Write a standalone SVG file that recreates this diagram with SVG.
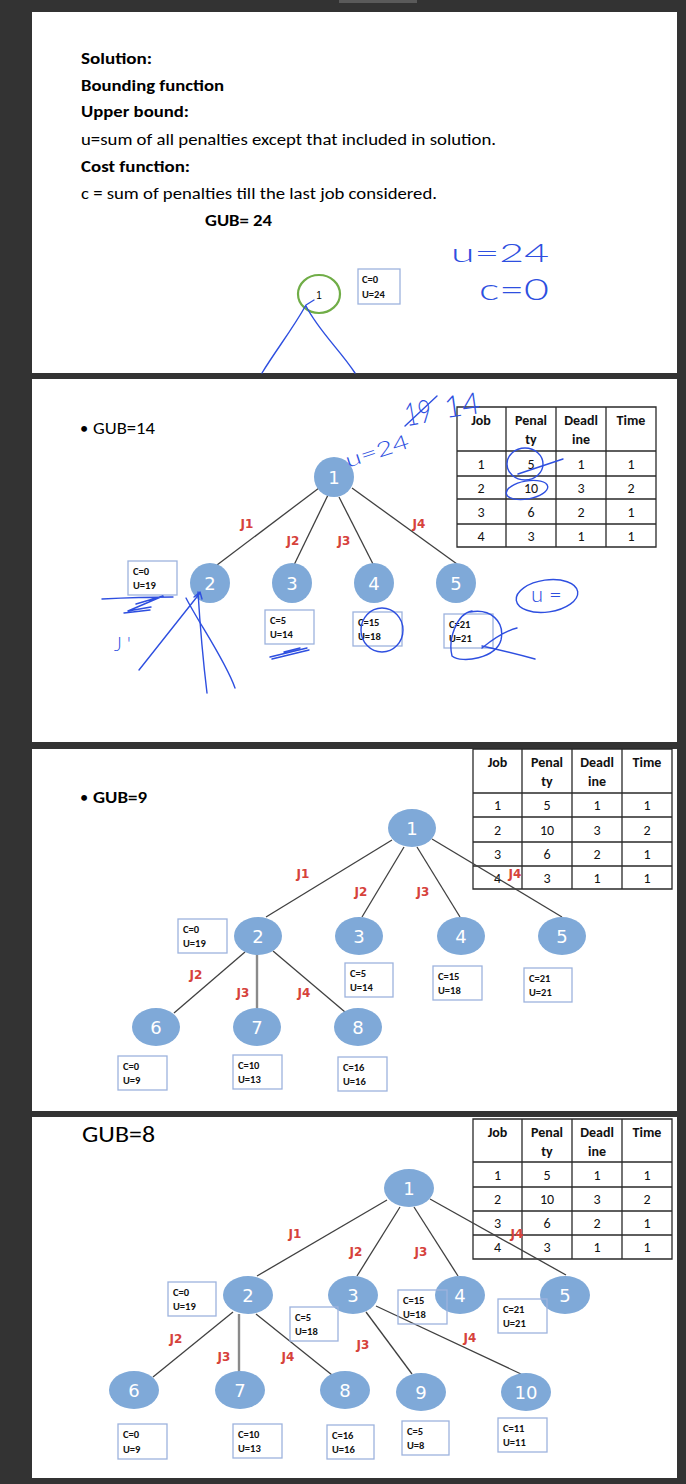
<svg xmlns="http://www.w3.org/2000/svg" width="686" height="1484" viewBox="0 0 686 1484">
<style>
.bg{fill:#333333}
.panel{fill:#ffffff}
.h{font-family:Carlito,'Liberation Sans',Arial,sans-serif;fill:#000;font-size:16.5px}
.b{font-weight:bold}
.node{fill:#7FA9D8}
.nl{font-family:'DejaVu Sans',sans-serif;font-size:18px;fill:#fff;text-anchor:middle}
.edge{stroke:#404040;stroke-width:1.3;fill:none}
.edge2{stroke:#8a8a8a;stroke-width:2.4;fill:none}
.jl{font-family:'DejaVu Sans',sans-serif;font-size:12px;fill:#D6423B;text-anchor:middle;font-weight:bold}
.box{fill:none;stroke:#9DB3DE;stroke-width:1.3}
.bt{font-family:Carlito,'Liberation Sans',Arial,sans-serif;font-size:10.5px;font-weight:bold;fill:#111}
.tl{stroke:#2a2a2a;stroke-width:1.3;fill:none}
.tt{font-family:Carlito,'Liberation Sans',Arial,sans-serif;font-size:14px;fill:#111;text-anchor:middle}
.th{font-weight:bold}
.ink{stroke:#2E4FE0;stroke-width:1.4;fill:none;stroke-linecap:round;stroke-linejoin:round}
.inkt{font-family:'DejaVu Sans ExtraLight',Lato,'DejaVu Sans',sans-serif;font-weight:300;fill:#2E4FE0}
</style>
<rect class="bg" x="0" y="0" width="686" height="1484"/>
<rect x="339" y="0" width="78" height="3" fill="#5a5a5a"/>
<rect class="panel" x="32" y="12" width="645" height="361"/>
<rect class="panel" x="32" y="379" width="645" height="363"/>
<rect class="panel" x="32" y="749" width="645" height="362"/>
<rect class="panel" x="32" y="1117" width="645" height="361"/>

<!-- Panel 1 -->
<g id="p1-text">
<text class="h b" x="81" y="64" textLength="71" lengthAdjust="spacingAndGlyphs">Solution:</text>
<text class="h b" x="81" y="91" textLength="143" lengthAdjust="spacingAndGlyphs">Bounding function</text>
<text class="h b" x="81" y="117" textLength="108" lengthAdjust="spacingAndGlyphs">Upper bound:</text>
<text class="h" x="81" y="145" textLength="415" lengthAdjust="spacingAndGlyphs">u=sum of all penalties except that included in solution.</text>
<text class="h b" x="81" y="172" textLength="109" lengthAdjust="spacingAndGlyphs">Cost function:</text>
<text class="h" x="81" y="199" textLength="356" lengthAdjust="spacingAndGlyphs">c = sum of penalties till the last job considered.</text>
<text class="h b" x="205" y="226" textLength="67" lengthAdjust="spacingAndGlyphs">GUB= 24</text>
</g>
<g id="p1-node1">
<ellipse cx="319" cy="294" rx="21" ry="19" fill="none" stroke="#70AD47" stroke-width="2.2"/>
<text x="319" y="299" font-family="'Liberation Sans',sans-serif" font-size="10" text-anchor="middle">1</text>
</g>
<g id="p1-box1">
<rect class="box" x="358" y="269" width="42" height="35"/>
<text class="bt" x="362" y="283">C=0</text>
<text class="bt" x="362" y="298">U=24</text>
</g>
<g id="p1-ink">
<text class="inkt" x="451" y="262" font-size="26" textLength="98" lengthAdjust="spacingAndGlyphs">u=24</text>
<text class="inkt" x="479" y="300" font-size="30" textLength="70" lengthAdjust="spacingAndGlyphs">c=0</text>
<path class="ink" d="M314,300 L306,305 C292,330 276,350 262,373 M306,306 C318,330 340,350 355,373"/>
</g>

<!-- Panel 2 -->
<g id="p2-title">
<text class="h" x="80" y="434">•</text>
<text class="h" x="93" y="434" textLength="62" lengthAdjust="spacingAndGlyphs">GUB=14</text>
</g>
<g id="p2-table">
<path class="tl" d="M457,407 H656 V547 H457 Z M457,451 H656 M457,476 H656 M457,499 H656 M457,524 H656 M506,407 V547 M556,407 V547 M606,407 V547"/>
<text class="tt th" x="481" y="425">Job</text>
<text class="tt th" x="531" y="425">Penal</text><text class="tt th" x="531" y="444">ty</text>
<text class="tt th" x="581" y="425">Deadl</text><text class="tt th" x="581" y="444">ine</text>
<text class="tt th" x="631" y="425">Time</text>
<text class="tt" x="481" y="469">1</text><text class="tt" x="531" y="469">5</text><text class="tt" x="581" y="469">1</text><text class="tt" x="631" y="469">1</text>
<text class="tt" x="481" y="493">2</text><text class="tt" x="531" y="493">10</text><text class="tt" x="581" y="493">3</text><text class="tt" x="631" y="493">2</text>
<text class="tt" x="481" y="517">3</text><text class="tt" x="531" y="517">6</text><text class="tt" x="581" y="517">2</text><text class="tt" x="631" y="517">1</text>
<text class="tt" x="481" y="541">4</text><text class="tt" x="531" y="541">3</text><text class="tt" x="581" y="541">1</text><text class="tt" x="631" y="541">1</text>
</g>
<g id="p2-connectors">
<line class="edge" x1="319" y1="488" x2="217" y2="565"/>
<line class="edge" x1="328" y1="495" x2="294" y2="565"/>
<line class="edge" x1="339" y1="497" x2="373" y2="564"/>
<line class="edge" x1="352" y1="488" x2="457" y2="564"/>
<text class="jl" x="247" y="528">J1</text>
<text class="jl" x="293" y="545">J2</text>
<text class="jl" x="344" y="545">J3</text>
<text class="jl" x="419" y="528">J4</text>
</g>
<g id="p2-n1"><circle class="node" cx="334" cy="477" r="20"/><text class="nl" x="334" y="483.5">1</text></g>
<g id="p2-n2"><circle class="node" cx="210" cy="583" r="20"/><text class="nl" x="210" y="589.5">2</text></g>
<g id="p2-n3"><circle class="node" cx="292" cy="583" r="20"/><text class="nl" x="292" y="589.5">3</text></g>
<g id="p2-n4"><circle class="node" cx="374" cy="583" r="20"/><text class="nl" x="374" y="589.5">4</text></g>
<g id="p2-n5"><circle class="node" cx="456" cy="583" r="20"/><text class="nl" x="456" y="589.5">5</text></g>
<g id="p2-b2"><rect class="box" x="128" y="561" width="49" height="34"/><text class="bt" x="133" y="575">C=0</text><text class="bt" x="133" y="589">U=19</text></g>
<g id="p2-b3"><rect class="box" x="265" y="610" width="49" height="34"/><text class="bt" x="270" y="624">C=5</text><text class="bt" x="270" y="638">U=14</text></g>
<g id="p2-b4"><rect class="box" x="353" y="612" width="49" height="34"/><text class="bt" x="358" y="626">C=15</text><text class="bt" x="358" y="640">U=18</text></g>
<g id="p2-b5"><rect class="box" x="444" y="614" width="49" height="34"/><text class="bt" x="449" y="628">C=21</text><text class="bt" x="449" y="642">U=21</text></g>
<g id="p2-ink">
<text class="inkt" x="343" y="458" font-size="20" transform="rotate(-18 376 448)" textLength="66" lengthAdjust="spacingAndGlyphs">u=24</text>
<text class="inkt" x="404" y="424" font-size="32" transform="rotate(-10 418 410)" textLength="27" lengthAdjust="spacingAndGlyphs">19</text>
<path class="ink" d="M405,426 L437,396"/>
<text class="inkt" x="444" y="416" font-size="30" transform="rotate(-8 460 405)" textLength="36" lengthAdjust="spacingAndGlyphs">14</text>
<ellipse class="ink" cx="525" cy="464" rx="18" ry="16"/>
<path class="ink" d="M518,474 L563,459"/>
<ellipse class="ink" cx="527" cy="490" rx="21" ry="9" transform="rotate(-10 527 490)"/>
<ellipse class="ink" cx="547" cy="596" rx="31" ry="16" transform="rotate(-8 547 596)"/>
<text class="inkt" x="531" y="602" font-size="22">u =</text>
<ellipse class="ink" cx="382" cy="630" rx="21" ry="22"/>
<path class="ink" d="M472,611 C456,614 448,640 452,656 C462,664 496,658 501,640 C505,621 490,608 470,612 M482,648 C492,640 505,631 517,628 M482,646 C500,650 520,655 535,659"/>
<path class="ink" d="M102,599 Q140,597 173,597 M136,604 L163,596 L128,611 L151,607 M124,613 L150,610"/>
<text class="inkt" x="114" y="651" font-size="19">J '</text>
<path class="ink" d="M139,670 L200,593 M194,597 L200,592 L202,599"/>
<path class="ink" d="M207,693 C203,660 200,625 198,592"/>
<path class="ink" d="M186,598 C200,625 225,660 235,688"/>
<path class="ink" d="M270,657 L307,648 M272,659 L309,650 M284,652 L300,648"/>
</g>

<!-- Panel 3 -->
<g id="p3-title">
<text class="h" x="80" y="803">•</text>
<text class="h b" x="93" y="803" textLength="54" lengthAdjust="spacingAndGlyphs">GUB=9</text>
</g>
<g id="p3-table">
<path class="tl" d="M473,749 H672 V889 H473 Z M473,793 H672 M473,817 H672 M473,842 H672 M473,866 H672 M522,749 V889 M572,749 V889 M622,749 V889"/>
<text class="tt th" x="497.5" y="767">Job</text>
<text class="tt th" x="547" y="767">Penal</text><text class="tt th" x="547" y="786">ty</text>
<text class="tt th" x="597" y="767">Deadl</text><text class="tt th" x="597" y="786">ine</text>
<text class="tt th" x="647" y="767">Time</text>
<text class="tt" x="497.5" y="810">1</text><text class="tt" x="547" y="810">5</text><text class="tt" x="597" y="810">1</text><text class="tt" x="647" y="810">1</text>
<text class="tt" x="497.5" y="835">2</text><text class="tt" x="547" y="835">10</text><text class="tt" x="597" y="835">3</text><text class="tt" x="647" y="835">2</text>
<text class="tt" x="497.5" y="859">3</text><text class="tt" x="547" y="859">6</text><text class="tt" x="597" y="859">2</text><text class="tt" x="647" y="859">1</text>
<text class="tt" x="497.5" y="883">4</text><text class="tt" x="547" y="883">3</text><text class="tt" x="597" y="883">1</text><text class="tt" x="647" y="883">1</text>
</g>
<g id="p3-connectors">
<line class="edge" x1="392" y1="840" x2="266" y2="917"/>
<line class="edge" x1="404" y1="847" x2="362" y2="917"/>
<line class="edge" x1="417" y1="847" x2="460" y2="917"/>
<line class="edge" x1="432" y1="839" x2="562" y2="917"/>
<line class="edge" x1="245" y1="952" x2="174" y2="1013"/>
<line class="edge2" x1="257" y1="955" x2="257" y2="1008"/>
<line class="edge" x1="273" y1="951" x2="345" y2="1012"/>
<text class="jl" x="303" y="878">J1</text>
<text class="jl" x="361" y="896">J2</text>
<text class="jl" x="423" y="896">J3</text>
<text class="jl" x="515" y="878">J4</text>
<text class="jl" x="196" y="979">J2</text>
<text class="jl" x="243" y="997">J3</text>
<text class="jl" x="304" y="997">J4</text>
</g>
<g id="p3-n1"><ellipse class="node" cx="412" cy="828" rx="24" ry="19"/><text class="nl" x="412" y="834.5">1</text></g>
<g id="p3-n2"><ellipse class="node" cx="258" cy="936" rx="24" ry="19"/><text class="nl" x="258" y="942.5">2</text></g>
<g id="p3-n3"><ellipse class="node" cx="359" cy="936" rx="24" ry="19"/><text class="nl" x="359" y="942.5">3</text></g>
<g id="p3-n4"><ellipse class="node" cx="461" cy="936" rx="24" ry="19"/><text class="nl" x="461" y="942.5">4</text></g>
<g id="p3-n5"><ellipse class="node" cx="562" cy="936" rx="24" ry="19"/><text class="nl" x="562" y="942.5">5</text></g>
<g id="p3-n6"><ellipse class="node" cx="156" cy="1027" rx="24" ry="19"/><text class="nl" x="156" y="1033.5">6</text></g>
<g id="p3-n7"><ellipse class="node" cx="257" cy="1027" rx="24" ry="19"/><text class="nl" x="257" y="1033.5">7</text></g>
<g id="p3-n8"><ellipse class="node" cx="358" cy="1027" rx="24" ry="19"/><text class="nl" x="358" y="1033.5">8</text></g>
<g id="p3-b2"><rect class="box" x="178" y="919" width="49" height="34"/><text class="bt" x="183" y="933">C=0</text><text class="bt" x="183" y="947">U=19</text></g>
<g id="p3-b3"><rect class="box" x="345" y="963" width="48" height="34"/><text class="bt" x="350" y="977">C=5</text><text class="bt" x="350" y="991">U=14</text></g>
<g id="p3-b4"><rect class="box" x="433" y="966" width="49" height="34"/><text class="bt" x="438" y="980">C=15</text><text class="bt" x="438" y="994">U=18</text></g>
<g id="p3-b5"><rect class="box" x="524" y="968" width="48" height="34"/><text class="bt" x="529" y="982">C=21</text><text class="bt" x="529" y="996">U=21</text></g>
<g id="p3-b6"><rect class="box" x="118" y="1056" width="49" height="34"/><text class="bt" x="123" y="1070">C=0</text><text class="bt" x="123" y="1084">U=9</text></g>
<g id="p3-b7"><rect class="box" x="233" y="1055" width="49" height="34"/><text class="bt" x="238" y="1069">C=10</text><text class="bt" x="238" y="1083">U=13</text></g>
<g id="p3-b8"><rect class="box" x="338" y="1057" width="49" height="34"/><text class="bt" x="343" y="1071">C=16</text><text class="bt" x="343" y="1085">U=16</text></g>

<!-- Panel 4 -->
<g id="p4-title">
<text class="h" x="82" y="1142" textLength="73" lengthAdjust="spacingAndGlyphs" style="font-size:22.5px">GUB=8</text>
</g>
<g id="p4-table">
<path class="tl" d="M473,1119 H672 V1259 H473 Z M473,1162 H672 M473,1187 H672 M473,1211 H672 M473,1235 H672 M522,1119 V1259 M572,1119 V1259 M622,1119 V1259"/>
<text class="tt th" x="497.5" y="1137">Job</text>
<text class="tt th" x="547" y="1137">Penal</text><text class="tt th" x="547" y="1156">ty</text>
<text class="tt th" x="597" y="1137">Deadl</text><text class="tt th" x="597" y="1156">ine</text>
<text class="tt th" x="647" y="1137">Time</text>
<text class="tt" x="497.5" y="1180">1</text><text class="tt" x="547" y="1180">5</text><text class="tt" x="597" y="1180">1</text><text class="tt" x="647" y="1180">1</text>
<text class="tt" x="497.5" y="1204">2</text><text class="tt" x="547" y="1204">10</text><text class="tt" x="597" y="1204">3</text><text class="tt" x="647" y="1204">2</text>
<text class="tt" x="497.5" y="1228">3</text><text class="tt" x="547" y="1228">6</text><text class="tt" x="597" y="1228">2</text><text class="tt" x="647" y="1228">1</text>
<text class="tt" x="497.5" y="1252">4</text><text class="tt" x="547" y="1252">3</text><text class="tt" x="597" y="1252">1</text><text class="tt" x="647" y="1252">1</text>
</g>
<g id="p4-connectors">
<line class="edge" x1="387" y1="1200" x2="257" y2="1276"/>
<line class="edge" x1="400" y1="1207" x2="357" y2="1276"/>
<line class="edge" x1="414" y1="1207" x2="458" y2="1276"/>
<line class="edge" x1="430" y1="1199" x2="566" y2="1275"/>
<line class="edge" x1="233" y1="1312" x2="153" y2="1377"/>
<line class="edge2" x1="239" y1="1314" x2="239" y2="1372"/>
<line class="edge" x1="256" y1="1314" x2="332" y2="1375"/>
<line class="edge" x1="366" y1="1312" x2="412" y2="1374"/>
<line class="edge" x1="376" y1="1306" x2="521" y2="1374"/>
<text class="jl" x="295" y="1238">J1</text>
<text class="jl" x="356" y="1256">J2</text>
<text class="jl" x="421" y="1256">J3</text>
<text class="jl" x="517" y="1238">J4</text>
<text class="jl" x="176" y="1343">J2</text>
<text class="jl" x="224" y="1361">J3</text>
<text class="jl" x="288" y="1361">J4</text>
<text class="jl" x="363" y="1349">J3</text>
<text class="jl" x="470" y="1342">J4</text>
</g>
<g id="p4-n1"><ellipse class="node" cx="409" cy="1188" rx="25" ry="19"/><text class="nl" x="409" y="1194.5">1</text></g>
<g id="p4-n2"><ellipse class="node" cx="248" cy="1295" rx="25" ry="19"/><text class="nl" x="248" y="1301.5">2</text></g>
<g id="p4-n3"><ellipse class="node" cx="353" cy="1295" rx="25" ry="19"/><text class="nl" x="353" y="1301.5">3</text></g>
<g id="p4-n4"><ellipse class="node" cx="460" cy="1295" rx="25" ry="19"/><text class="nl" x="460" y="1301.5">4</text></g>
<g id="p4-n5"><ellipse class="node" cx="565" cy="1295" rx="25" ry="19"/><text class="nl" x="565" y="1301.5">5</text></g>
<g id="p4-n6"><ellipse class="node" cx="134" cy="1390" rx="25" ry="19"/><text class="nl" x="134" y="1396.5">6</text></g>
<g id="p4-n7"><ellipse class="node" cx="240" cy="1390" rx="25" ry="19"/><text class="nl" x="240" y="1396.5">7</text></g>
<g id="p4-n8"><ellipse class="node" cx="345" cy="1390" rx="25" ry="19"/><text class="nl" x="345" y="1396.5">8</text></g>
<g id="p4-n9"><ellipse class="node" cx="421" cy="1392" rx="25" ry="19"/><text class="nl" x="421" y="1398.5">9</text></g>
<g id="p4-n10"><ellipse class="node" cx="526" cy="1392" rx="25" ry="19"/><text class="nl" x="526" y="1398.5">10</text></g>
<g id="p4-b2"><rect class="box" x="168" y="1282" width="48" height="34"/><text class="bt" x="173" y="1296">C=0</text><text class="bt" x="173" y="1310">U=19</text></g>
<g id="p4-b3"><rect class="box" x="290" y="1307" width="48" height="34"/><text class="bt" x="295" y="1321">C=5</text><text class="bt" x="295" y="1335">U=18</text></g>
<g id="p4-b4"><rect class="box" x="398" y="1290" width="49" height="34"/><text class="bt" x="403" y="1304">C=15</text><text class="bt" x="403" y="1318">U=18</text></g>
<g id="p4-b5"><rect class="box" x="498" y="1299" width="49" height="34"/><text class="bt" x="503" y="1313">C=21</text><text class="bt" x="503" y="1327">U=21</text></g>
<g id="p4-b6"><rect class="box" x="118" y="1424" width="49" height="35"/><text class="bt" x="123" y="1438">C=0</text><text class="bt" x="123" y="1453">U=9</text></g>
<g id="p4-b7"><rect class="box" x="233" y="1424" width="49" height="34"/><text class="bt" x="238" y="1438">C=10</text><text class="bt" x="238" y="1452">U=13</text></g>
<g id="p4-b8"><rect class="box" x="327" y="1425" width="47" height="34"/><text class="bt" x="332" y="1439">C=16</text><text class="bt" x="332" y="1453">U=16</text></g>
<g id="p4-b9"><rect class="box" x="402" y="1421" width="47" height="34"/><text class="bt" x="407" y="1435">C=5</text><text class="bt" x="407" y="1449">U=8</text></g>
<g id="p4-b10"><rect class="box" x="498" y="1418" width="49" height="34"/><text class="bt" x="503" y="1432">C=11</text><text class="bt" x="503" y="1446">U=11</text></g>
</svg>
